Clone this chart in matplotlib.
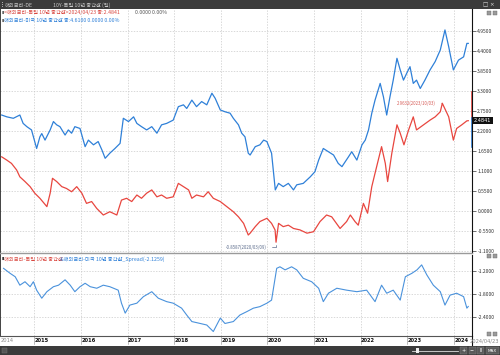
import matplotlib
matplotlib.use('Agg')
import matplotlib.pyplot as plt
from matplotlib.patches import Rectangle
import matplotlib.transforms as mtransforms
from matplotlib.ticker import FormatStrFormatter

plt.rcParams['font.family'] = ['Noto Sans CJK KR', 'DejaVu Sans']

# ---------------- data (decimal years, yields %) ----------------
us_t = [2014.30, 2014.41, 2014.55, 2014.69, 2014.76, 2014.84, 2014.94, 2015.02, 2015.05, 2015.12,
        2015.16, 2015.23, 2015.34, 2015.41, 2015.48, 2015.55, 2015.66, 2015.73, 2015.80, 2015.87,
        2015.98, 2016.09, 2016.16, 2016.27, 2016.37, 2016.45, 2016.52, 2016.62, 2016.73, 2016.84,
        2016.91, 2017.02, 2017.13, 2017.20, 2017.30, 2017.41, 2017.52, 2017.63, 2017.73, 2017.84,
        2017.98, 2018.09, 2018.20, 2018.27, 2018.38, 2018.48, 2018.59, 2018.70, 2018.81, 2018.88,
        2018.99, 2019.09, 2019.20, 2019.27, 2019.38, 2019.45, 2019.52, 2019.59, 2019.63, 2019.74,
        2019.84, 2019.92, 2019.99, 2020.09, 2020.17, 2020.24, 2020.34, 2020.45, 2020.56, 2020.63,
        2020.77, 2020.92, 2021.02, 2021.10, 2021.20, 2021.31, 2021.42, 2021.52, 2021.60, 2021.74,
        2021.81, 2021.92, 2022.03, 2022.10, 2022.17, 2022.24, 2022.31, 2022.42, 2022.49, 2022.56,
        2022.63, 2022.70, 2022.78, 2022.85, 2022.92, 2022.99, 2023.06, 2023.13, 2023.20, 2023.28,
        2023.38, 2023.49, 2023.60, 2023.71, 2023.81, 2023.89, 2023.99, 2024.10, 2024.21, 2024.28,
        2024.31]
us_v = [2.64, 2.59, 2.55, 2.64, 2.41, 2.32, 2.23, 1.86, 1.72, 2.04,
        2.13, 1.95, 2.23, 2.46, 2.37, 2.32, 2.09, 2.23, 2.14, 2.32,
        2.27, 1.77, 1.95, 1.82, 1.91, 1.68, 1.45, 1.59, 1.72, 1.86,
        2.55, 2.46, 2.59, 2.41, 2.32, 2.23, 2.32, 2.14, 2.37, 2.41,
        2.50, 2.87, 2.92, 2.82, 3.05, 2.87, 3.01, 2.92, 3.24, 3.10,
        2.78, 2.73, 2.69, 2.55, 2.37, 2.14, 2.04, 1.59, 1.54, 1.77,
        1.82, 1.95, 1.91, 1.59, 0.58, 0.76, 0.67, 0.76, 0.58, 0.72,
        0.76, 0.94, 1.08, 1.40, 1.72, 1.63, 1.54, 1.31, 1.22, 1.49,
        1.63, 1.40, 1.82, 1.95, 2.23, 2.69, 3.05, 3.51, 3.14, 2.64,
        3.14, 3.60, 4.20, 3.88, 3.60, 3.79, 3.97, 3.51, 3.60, 3.37,
        3.60, 3.88, 4.11, 4.43, 4.98, 4.52, 3.88, 4.15, 4.24, 4.61,
        4.61]

de_t = [2014.30, 2014.41, 2014.51, 2014.62, 2014.69, 2014.80, 2014.91, 2015.01, 2015.12, 2015.27,
        2015.34, 2015.39, 2015.48, 2015.59, 2015.69, 2015.80, 2015.91, 2016.02, 2016.12, 2016.23,
        2016.34, 2016.48, 2016.62, 2016.77, 2016.87, 2016.98, 2017.09, 2017.20, 2017.30, 2017.41,
        2017.52, 2017.63, 2017.73, 2017.84, 2017.98, 2018.09, 2018.20, 2018.31, 2018.38, 2018.48,
        2018.63, 2018.73, 2018.84, 2018.99, 2019.13, 2019.27, 2019.38, 2019.49, 2019.59, 2019.63,
        2019.74, 2019.84, 2019.99, 2020.09, 2020.165, 2020.186, 2020.24, 2020.34, 2020.45, 2020.56,
        2020.70, 2020.85, 2020.99, 2021.13, 2021.27, 2021.38, 2021.56, 2021.70, 2021.78, 2021.88,
        2021.95, 2022.06, 2022.15, 2022.24, 2022.31, 2022.45, 2022.53, 2022.58, 2022.67, 2022.78,
        2022.85, 2022.93, 2023.03, 2023.13, 2023.20, 2023.35, 2023.49, 2023.60, 2023.71, 2023.753,
        2023.89, 2023.99, 2024.06, 2024.17, 2024.28, 2024.31]
de_v = [1.49, 1.40, 1.31, 1.13, 0.94, 0.81, 0.67, 0.49, 0.35, 0.12,
        0.49, 0.90, 0.81, 0.67, 0.62, 0.53, 0.67, 0.49, 0.21, 0.26,
        0.07, -0.11, -0.02, -0.11, 0.30, 0.35, 0.26, 0.44, 0.35, 0.49,
        0.58, 0.39, 0.44, 0.35, 0.39, 0.76, 0.67, 0.58, 0.35, 0.44,
        0.39, 0.53, 0.35, 0.26, 0.12, -0.02, -0.16, -0.34, -0.66, -0.61,
        -0.43, -0.29, -0.20, -0.34, -0.52, -0.8587, -0.34, -0.43, -0.39, -0.48,
        -0.52, -0.61, -0.57, -0.29, -0.11, -0.16, -0.48, -0.29, -0.11, -0.29,
        -0.39, 0.21, -0.06, 0.67, 1.04, 1.77, 1.31, 0.81, 1.59, 2.37,
        2.14, 1.82, 2.23, 2.59, 2.23, 2.37, 2.50, 2.59, 2.73, 2.9632,
        2.59, 1.95, 2.27, 2.37, 2.48, 2.4841]

sp_t = [2014.34, 2014.48, 2014.59, 2014.69, 2014.80, 2014.91, 2014.98, 2015.05, 2015.16, 2015.27,
        2015.41, 2015.52, 2015.66, 2015.77, 2015.87, 2015.98, 2016.09, 2016.20, 2016.34, 2016.48,
        2016.62, 2016.80, 2016.87, 2016.95, 2017.05, 2017.20, 2017.34, 2017.52, 2017.66, 2017.84,
        2017.98, 2018.16, 2018.27, 2018.38, 2018.56, 2018.70, 2018.84, 2018.99, 2019.09, 2019.27,
        2019.41, 2019.56, 2019.70, 2019.84, 2019.99, 2020.09, 2020.20, 2020.27, 2020.38, 2020.52,
        2020.63, 2020.77, 2020.95, 2021.10, 2021.20, 2021.31, 2021.49, 2021.70, 2021.92, 2022.13,
        2022.31, 2022.45, 2022.56, 2022.70, 2022.85, 2022.96, 2023.10, 2023.21, 2023.31, 2023.42,
        2023.56, 2023.71, 2023.81, 2023.92, 2024.06, 2024.21, 2024.28, 2024.31]
sp_v = [-1.13, -1.26, -1.35, -1.57, -1.48, -1.61, -1.48, -1.70, -1.91, -1.74,
        -1.61, -1.57, -1.43, -1.57, -1.74, -1.61, -1.52, -1.61, -1.65, -1.57,
        -1.61, -1.70, -2.04, -2.30, -2.09, -2.04, -1.87, -1.74, -1.91, -2.00,
        -2.04, -2.17, -2.35, -2.52, -2.57, -2.61, -2.78, -2.43, -2.57, -2.52,
        -2.35, -2.26, -2.17, -2.13, -2.04, -1.96, -1.13, -1.09, -1.17, -1.09,
        -1.17, -1.39, -1.48, -1.65, -2.00, -1.78, -1.65, -1.70, -1.74, -1.70,
        -2.00, -1.57, -1.78, -1.70, -1.96, -1.35, -1.26, -1.17, -1.04, -1.30,
        -1.57, -1.74, -2.09, -1.83, -1.78, -1.87, -2.17, -2.1259]

years = [2015, 2016, 2017, 2018, 2019, 2020, 2021, 2022, 2023, 2024]
main_ticks = [4.95, 4.40, 3.85, 3.30, 2.75, 2.20, 1.65, 1.10, 0.55, 0.00, -0.55, -1.10]
spread_ticks = [-1.2, -1.8, -2.4]
de_min = (2020.186, -0.8587, '-0.8587(2020/03/09)')
de_max = (2023.753, 2.9632, '2.9632(2023/10/03)')
de_range_bar = (2.54, 3.28)
us_range_bar = (1.77, 2.56)
last_date = '2024/04/23'
first_year_label = '2014'
de_last, us_last, sp_last = 2.4841, 4.6100, -2.1259

# ---------------- style ----------------
RED = '#e8463f'
BLUE = '#2f80d8'
SPB = '#4a92dc'
GRID = '#c9c9c9'
DARK = '#3b3b3b'
W, H = 500, 355
FS = 3.8

fig = plt.figure(figsize=(W / 100, H / 100), dpi=100)
fig.patch.set_facecolor('white')


def rect(x0, y0, x1, y1):
    return [x0 / W, 1 - y1 / H, (x1 - x0) / W, (y1 - y0) / H]


def fx(x):
    return x / W


def fy(y):
    return 1 - y / H


ax = fig.add_axes(rect(0, 9, 472, 253))
ax2 = fig.add_axes(rect(0, 255, 472, 336))
xlim = (2014.264, 2024.39)

for a in (ax, ax2):
    a.set_xlim(*xlim)
    a.set_xticks(years)
    a.tick_params(axis='x', length=0, labelbottom=False)
    a.yaxis.tick_right()
    a.tick_params(axis='y', labelsize=3.6, length=3, width=0.5, pad=0.8,
                  colors='#333333', direction='out')
    a.yaxis.set_major_formatter(FormatStrFormatter('%.4f'))
    a.grid(True, color=GRID, linestyle=(0, (2, 2)), linewidth=0.5)
    a.set_axisbelow(True)
    a.spines['top'].set_visible(False)
    a.spines['left'].set_color('#222222')
    a.spines['left'].set_linewidth(1.2)
    a.spines['right'].set_color('#111111')
    a.spines['right'].set_linewidth(0.8)

ax.spines['bottom'].set_color('#9a9a9a')
ax.spines['bottom'].set_linewidth(1.0)
ax2.spines['bottom'].set_color('#555555')
ax2.spines['bottom'].set_linewidth(0.8)

ax.set_ylim(-1.155, 5.556)
ax.set_yticks(main_ticks)
ax2.set_ylim(-2.897, -0.782)
ax2.set_yticks(spread_ticks)

ax.plot(us_t, us_v, color=BLUE, lw=0.9)
ax.plot(de_t, de_v, color=RED, lw=0.9)
ax2.plot(sp_t, sp_v, color=SPB, lw=0.8)

# range bars on the axis
tr = mtransforms.blended_transform_factory(ax.transAxes, ax.transData)
ax.plot([1.0, 1.0], de_range_bar, color=RED, lw=1.2, transform=tr, clip_on=False)
ax.plot([1.0, 1.0], us_range_bar, color=BLUE, lw=1.2, transform=tr, clip_on=False)

# current value box
ax.text(1.004, de_last, f'{de_last:.4f}', transform=tr, fontsize=3.6, color='white',
        va='center', ha='left', family='DejaVu Sans',
        bbox=dict(boxstyle='square,pad=0.25', fc='#111111', ec='none'))

# annotations
ax.annotate(de_max[2], xy=(de_max[0], de_max[1]), xytext=(2023.62, de_max[1]),
            fontsize=3.1, color='#d65a55', ha='right', va='center',
            arrowprops=dict(arrowstyle='-', color='#d65a55', lw=0.5))
ax.annotate(de_min[2], xy=(de_min[0], de_min[1]), xytext=(2019.99, -0.99),
            fontsize=3.1, color='#5a6a8a', ha='right', va='center',
            arrowprops=dict(arrowstyle='-', color='#5a6a8a', lw=0.5,
                            connectionstyle='angle,angleA=0,angleB=90,rad=0'))

# ---------------- top title bar ----------------
fig.patches.append(Rectangle((0, fy(9)), 1, 9 / H, transform=fig.transFigure,
                             fc=DARK, ec='none', zorder=5))
for dy in (2.5, 4.5, 6.5):
    fig.patches.append(Rectangle((fx(1.5), fy(dy + 0.6)), 1 / W, 1 / H, transform=fig.transFigure,
                                 fc='#aaaaaa', ec='none', zorder=6))
fig.text(fx(5), fy(4.8), '해외금리-DE', fontsize=FS, color='#c8c8c8', va='center', zorder=6)
fig.text(fx(53), fy(4.8), '10Y-독일 10년 중간값 (일)', fontsize=FS, color='#c8c8c8', va='center', zorder=6)
fig.text(fx(483), fy(4.8), '□ ×', fontsize=4, color='#dddddd', va='center', zorder=6, family='DejaVu Sans')

# legends in main panel
fig.text(fx(1.5), fy(12.5), '▮', fontsize=3, color='#555555', va='center', family='DejaVu Sans')
fig.text(fx(4), fy(12.5), '<해외금리-독일 10년 중간값>2024/04/23 종:2.4841', fontsize=FS,
         color='#d9463f', va='center')
fig.text(fx(135), fy(12.5), '0.0000 0.00%', fontsize=FS, color='#555555', va='center')
fig.text(fx(1.5), fy(20.5), '▮', fontsize=3, color='#555555', va='center', family='DejaVu Sans')
fig.text(fx(4), fy(20.5), '해외금리-미국 10년 중간값 종:4.6100 0.0000 0.00%', fontsize=FS,
         color='#2f80d8', va='center')

# legend in spread panel
fig.text(fx(1.5), fy(259), '▮', fontsize=3, color='#222222', va='center', family='DejaVu Sans')
fig.text(fx(4), fy(259.2), '해외금리-독일 10년 중간값', fontsize=FS, color='#d9463f', va='center')
fig.text(fx(60), fy(259.2), f'&해외금리-미국 10년 중간값_Spread({sp_last:.4f})', fontsize=FS,
         color='#2f80d8', va='center')

# small panel icons
for (x0, y0) in [(487, 11), (492.5, 11), (487, 254), (492.5, 254), (487, 332), (492.5, 332)]:
    fig.patches.append(Rectangle((fx(x0), fy(y0 + 4)), 4 / W, 4 / H, transform=fig.transFigure,
                                 fc='#9a9a9a', ec='#666666', lw=0.3, zorder=6))

# ---------------- x labels row ----------------
trx = mtransforms.blended_transform_factory(ax2.transData, fig.transFigure)
for yv in years:
    ax2.text(yv + 0.01, fy(341), str(yv), transform=trx, fontsize=3.7, fontweight='bold',
             color='#111111', ha='left', va='center', family='DejaVu Sans', clip_on=False)
    ax2.plot([yv, yv], [fy(336), fy(344)], transform=trx, color='#888888', lw=0.4, clip_on=False)
fig.text(fx(0.5), fy(341), first_year_label, fontsize=3.7, color='#888888', va='center', family='DejaVu Sans')
fig.text(fx(470), fy(341), last_date, fontsize=3.7, color='#888888', va='center', family='DejaVu Sans')
fig.add_artist(plt.Line2D([fx(472), fx(472)], [fy(336), fy(345)], color='#111111', lw=0.8))

# ---------------- bottom bar ----------------
fig.patches.append(Rectangle((0, 0), 1, 9.5 / H, transform=fig.transFigure,
                             fc=DARK, ec='none', zorder=5))
fig.patches.append(Rectangle((fx(2), fy(353)), 5 / W, 5 / H, transform=fig.transFigure,
                             fc='#555555', ec='#777777', lw=0.3, zorder=6))
fig.add_artist(plt.Line2D([fx(412), fx(458)], [fy(350.5), fy(350.5)], color='#dddddd', lw=0.6, zorder=6))
fig.patches.append(Rectangle((fx(416), fy(353)), 3 / W, 5 / H, transform=fig.transFigure,
                             fc='#eeeeee', ec='none', zorder=7))
for i, s in enumerate(['+', '−', 'II']):
    fig.patches.append(Rectangle((fx(460 + i * 8.5), fy(354)), 7 / W, 7 / H, transform=fig.transFigure,
                                 fc='#5a5a5a', ec='#888888', lw=0.3, zorder=6))
    fig.text(fx(463.5 + i * 8.5), fy(350.5), s, fontsize=3.5, color='white', ha='center',
             va='center', zorder=7, family='DejaVu Sans')
fig.patches.append(Rectangle((fx(486), fy(354)), 13 / W, 7 / H, transform=fig.transFigure,
                             fc='#5a5a5a', ec='#888888', lw=0.3, zorder=6))
fig.text(fx(492.5), fy(350.5), 'MAX', fontsize=3.0, color='white', ha='center', va='center',
         zorder=7, family='DejaVu Sans')

fig.savefig('out.png', dpi=100, facecolor='white')
